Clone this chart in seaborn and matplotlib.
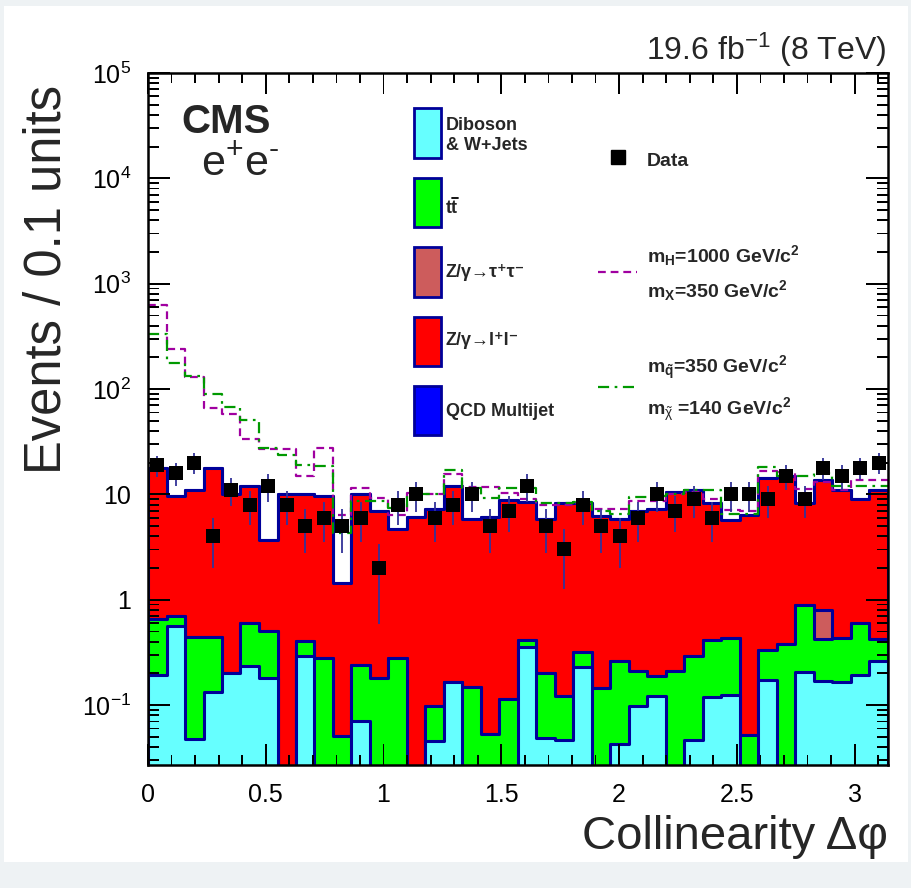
import numpy as np
import pandas as pd
import matplotlib
matplotlib.use("Agg")
import matplotlib.pyplot as plt
import seaborn as sns
from matplotlib.patches import Rectangle
from matplotlib.lines import Line2D
from matplotlib.ticker import FixedLocator, NullLocator, FuncFormatter

# ---- binning: 40 bins in collinearity delta-phi ----
n_bins = 40
dphi_edges = np.linspace(0.0, np.pi, n_bins + 1)
dphi_centers = 0.5 * (dphi_edges[:-1] + dphi_edges[1:])
bin_list = [float(e) for e in dphi_edges]

# ---- background yields per bin ----
diboson = [0.195, 0.566, 0.048, 0.133, 0.2, 0.234, 0.18, 0, 0.29, 0,
           0, 0.071, 0, 0, 0, 0.046, 0.166, 0, 0, 0,
           0.356, 0.049, 0.047, 0.231, 0, 0.043, 0.099, 0.123, 0, 0.047,
           0.119, 0.126, 0, 0.172, 0, 0.207, 0.169, 0.165, 0.195, 0.262]
ttbar = [0.455, 0.134, 0.392, 0.307, 0, 0.366, 0.32, 0, 0.12, 0.28,
         0.051, 0.167, 0.179, 0.277, 0, 0.053, 0, 0.149, 0.053, 0.115,
         0.06, 0.151, 0.074, 0.088, 0.146, 0.222, 0.114, 0.065, 0.213, 0.245,
         0.294, 0.304, 0.052, 0.159, 0.377, 0.686, 0.251, 0.265, 0.401, 0.158]
ztautau = [0] * 36 + [0.385] + [0] * 3
zll = [17.25, 8.9, 10.66, 17.46, 9.8, 11.5, 3.2, 10.1, 9.59, 9.32,
       1.4, 9.76, 6.82, 4.38, 6.15, 7.1, 11.93, 5.75, 6.05, 8.79,
       7.98, 5.65, 8.18, 7.98, 6.15, 5.59, 6.69, 7.11, 10.29, 10.61,
       7.89, 5.27, 6.35, 13.97, 14.52, 7.41, 12.8, 10.47, 8.4, 10.48]
qcd = [0] * 40

# ---- observed events ----
data_counts = [19, 16, 20, 4, 11, 8, 12, 8, 5, 6,
               5, 6, 2, 8, 10, 6, 8, 10, 5, 7,
               12, 5, 3, 8, 5, 4, 6, 10, 7, 9,
               6, 10, 10, 9, 15, 9, 18, 15, 18, 20]

# ---- signal hypotheses (signal + background) ----
sig_higgs = [633, 241, 129, 66, 58, 33.5, 26.9, 26.9, 15.1, 27.3,
             6.4, 11.5, 9.3, 6.4, 10.3, 10, 15.6, 11.7, 11.7, 10.3,
             9.1, 8, 8, 8.3, 7.3, 7.3, 8.6, 8.6, 10, 10.5,
             9, 7.1, 7, 16.6, 16.2, 11.3, 13, 11, 13.8, 13.8]
sig_squark = [335, 177, 132, 90, 67, 51, 27.5, 23.8, 19.1, 18.5,
              4.3, 8.6, 8.7, 7.5, 10.1, 10, 17.2, 11.5, 9.2, 11.5,
              11.5, 8.2, 8.2, 8.5, 7, 6.5, 9.4, 9.6, 10, 11.1,
              11.1, 6.5, 6.5, 18.2, 15, 15, 16, 12, 11.9, 12]

# ---- axis ticks ----
x_major = [0, 0.5, 1, 1.5, 2, 2.5, 3]
x_minor = [round(0.1 * i, 1) for i in range(32) if i % 5 != 0]
y_tick_values = [0.1, 1, 10, 1e2, 1e3, 1e4, 1e5]
y_tick_labels = [r"$10^{-1}$", "1", "10", r"$10^{2}$", r"$10^{3}$",
                 r"$10^{4}$", r"$10^{5}$"]
y_minor = [m * 10.0 ** d for d in range(-2, 5) for m in range(2, 10)
           if 0.027 < m * 10.0 ** d < 1e5]

process_labels = ["Diboson\n& W+Jets", "tt", "Z/γ→τ⁺τ⁻", "Z/γ→l⁺l⁻",
                  "QCD Multijet"]
process_colors = ["#66ffff", "#00ff00", "#cd5c5c", "#ff0000", "#0000ff"]
outline = "#000099"
higgs_color = "#a000a0"
squark_color = "#009900"
err_color = "#333399"

sns.set_theme(style="ticks")
plt.rcParams["font.family"] = ["Liberation Sans", "DejaVu Sans"]
plt.rcParams["mathtext.fontset"] = "custom"
plt.rcParams["mathtext.rm"] = "Liberation Sans"
plt.rcParams["mathtext.it"] = "Liberation Sans:italic"
plt.rcParams["mathtext.bf"] = "Liberation Sans:bold"
plt.rcParams["mathtext.default"] = "rm"

W, H = 912, 888
AX_L, AX_R, AX_T, AX_B = 148, 888, 73, 765
AX_W, AX_H = AX_R - AX_L, AX_B - AX_T
X_LO, X_HI = 0.0, np.pi
Y_LO, Y_HI = 0.027, 1e5
fig = plt.figure(figsize=(W / 100, H / 100), dpi=100)
fig.patch.set_facecolor("#eef2f4")
fig.patches.append(Rectangle((4 / W, 1 - 862 / H), (W - 8) / W, (862 - 6) / H,
                             transform=fig.transFigure, facecolor="white",
                             edgecolor="none", zorder=-10))


def fx(px):
    return px / W


def fy(py):
    return 1 - py / H


ax = fig.add_axes([fx(AX_L), fy(AX_B), AX_W / W, AX_H / H])
ax.set_facecolor("white")

# cumulative stack, drawn from the top layer down
layers = [diboson, ttbar, ztautau, zll, qcd]
cumulative = np.cumsum(np.array(layers, dtype=float), axis=0)
for k in range(len(layers) - 1, -1, -1):
    layer_df = pd.DataFrame({"dphi": dphi_centers, "events": cumulative[k]})
    sns.histplot(data=layer_df, x="dphi", weights="events", bins=bin_list,
                 element="step", fill=True, color=process_colors[k], alpha=1,
                 edgecolor=outline, linewidth=2.2, ax=ax,
                 zorder=2 + (4 - k) * 0.01)

# signal curves
higgs_df = pd.DataFrame({"dphi": dphi_centers, "events": sig_higgs})
squark_df = pd.DataFrame({"dphi": dphi_centers, "events": sig_squark})
sns.histplot(data=higgs_df, x="dphi", weights="events", bins=bin_list,
             element="step", fill=False, color=higgs_color, linewidth=1.6,
             linestyle=(0, (3.5, 2.2)), ax=ax, zorder=3)
sns.histplot(data=squark_df, x="dphi", weights="events", bins=bin_list,
             element="step", fill=False, color=squark_color, linewidth=1.6,
             linestyle=(0, (5, 2.5, 1.2, 2.5)), ax=ax, zorder=3)

# data with Poisson errors
data_arr = np.array(data_counts, dtype=float)
ax.errorbar(dphi_centers, data_arr, yerr=np.sqrt(data_arr), fmt="none",
            ecolor=err_color, elinewidth=1.3, capsize=0, zorder=5)
sns.scatterplot(x=dphi_centers, y=data_arr, marker="s", s=92, color="black",
                linewidth=0, ax=ax, zorder=6, legend=False)

ax.set_yscale("log")
ax.set_xlim(X_LO, X_HI)
ax.set_ylim(Y_LO, Y_HI)

ax.xaxis.set_major_locator(FixedLocator(x_major))
ax.xaxis.set_minor_locator(NullLocator())
ax.xaxis.set_major_formatter(FuncFormatter(lambda v, p: f"{v:g}"))
ax.yaxis.set_major_locator(FixedLocator(y_tick_values))
ax.set_yticklabels(y_tick_labels)
ax.yaxis.set_minor_locator(NullLocator())
ax.tick_params(axis="both", which="both", length=0, labelcolor="black",
               labelsize=18)
ax.tick_params(axis="x", pad=13)
ax.tick_params(axis="y", pad=12)

for side in ax.spines.values():
    side.set_linewidth(1.8)
    side.set_color("black")
    side.set_zorder(10)


# inward ROOT-style tick marks on all four sides, as thin filled bars
def x_px(v):
    return AX_L + (v - X_LO) / (X_HI - X_LO) * AX_W


def y_px(v):
    lo, hi = np.log10(Y_LO), np.log10(Y_HI)
    return AX_B - (np.log10(v) - lo) / (hi - lo) * AX_H


TICK_PX = 1.8


def add_tick_bar(left, top, width, height):
    fig.patches.append(Rectangle((fx(left), fy(top + height)), width / W,
                                 height / H, transform=fig.transFigure,
                                 facecolor="black", edgecolor="none", zorder=5))


for vals, length in ((x_major, 21), (x_minor, 10)):
    for v in vals:
        p = x_px(v)
        add_tick_bar(p - TICK_PX / 2, AX_B - length, TICK_PX, length)
        add_tick_bar(p - TICK_PX / 2, AX_T, TICK_PX, length)
for vals, length in ((y_tick_values, 22), (y_minor, 11)):
    for v in vals:
        p = y_px(v)
        add_tick_bar(AX_L, p - TICK_PX / 2, length, TICK_PX)
        add_tick_bar(AX_R - length, p - TICK_PX / 2, length, TICK_PX)

ax.set_xlabel("Collinearity Δφ", fontsize=34, ha="right")
ax.xaxis.set_label_coords(1.0, -0.072)
ax.set_ylabel("Events / 0.1 units", fontsize=36.5, ha="right")
ax.yaxis.set_label_coords(-0.103, 0.983)

# header texts
fig.text(fx(886), fy(60), r"19.6 fb$^{-1}$ (8 TeV)", ha="right", va="baseline",
         fontsize=23)
fig.text(fx(181), fy(133), "CMS", ha="left", va="baseline", fontsize=29,
         fontweight="bold")
fig.text(fx(201), fy(176), r"e$^{+}$e$^{\text{-}}$", ha="left", va="baseline",
         fontsize=31)

# stacked-process legend
box_rows = [(108, 158), (178, 227), (247, 297), (317, 366), (386, 435)]
text_base = [130, 213, 277, 345, 416]
for k, (top, bot) in enumerate(box_rows):
    fig.patches.append(Rectangle((fx(414), fy(bot)), (441 - 414) / W, (bot - top) / H,
                                 transform=fig.transFigure,
                                 facecolor=process_colors[k], edgecolor=outline,
                                 linewidth=2))
fig.text(fx(446), fy(130), "Diboson", ha="left", va="baseline", fontsize=13,
         fontweight="bold")
fig.text(fx(446), fy(150), "& W+Jets", ha="left", va="baseline", fontsize=13,
         fontweight="bold")
for k in range(1, 5):
    fig.text(fx(446), fy(text_base[k]), process_labels[k], ha="left",
             va="baseline", fontsize=13, fontweight="bold")
# bar over the anti-top
fig.lines.append(Line2D([fx(452), fx(458)], [fy(198), fy(198)], color="black",
                        linewidth=1.3, transform=fig.transFigure))

# data and signal legend
fig.lines.append(Line2D([fx(618)], [fy(157)], marker="s", markersize=9.5,
                        color="black", linestyle="none",
                        transform=fig.transFigure))
fig.text(fx(647), fy(166), "Data", ha="left", va="baseline", fontsize=14,
         fontweight="bold")
fig.lines.append(Line2D([fx(598), fx(637)], [fy(272), fy(272)], color=higgs_color,
                        linewidth=1.6, linestyle=(0, (3.5, 2.2)),
                        transform=fig.transFigure))
fig.text(fx(647), fy(262), r"m$_{\mathbf{H}}$=1000 GeV/c$^{\mathbf{2}}$", ha="left",
         va="baseline", fontsize=14, fontweight="bold")
fig.text(fx(647), fy(297), r"m$_{\mathbf{X}}$=350 GeV/c$^{\mathbf{2}}$", ha="left",
         va="baseline", fontsize=14, fontweight="bold")
fig.lines.append(Line2D([fx(598), fx(637)], [fy(387), fy(387)], color=squark_color,
                        linewidth=1.6, linestyle=(0, (5, 2.5, 1.2, 2.5)),
                        transform=fig.transFigure))
fig.text(fx(647), fy(373), r"m$_{\mathbf{\tilde{q}}}$=350 GeV/c$^{\mathbf{2}}$",
         ha="left", va="baseline", fontsize=14, fontweight="bold")
fig.text(fx(647), fy(415), r"m$_{\tilde{\chi}}$ =140 GeV/c$^{\mathbf{2}}$",
         ha="left", va="baseline", fontsize=14, fontweight="bold")

fig.savefig("out.png", dpi=100, facecolor=fig.get_facecolor())
